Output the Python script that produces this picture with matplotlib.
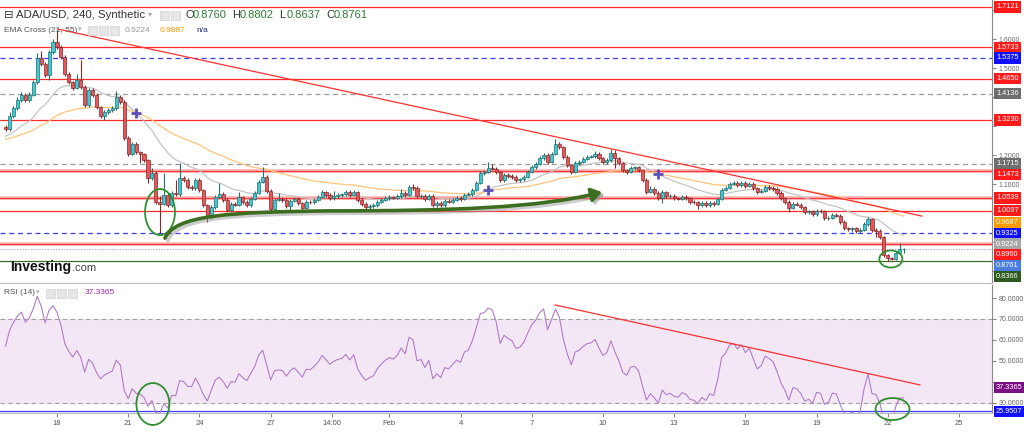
import numpy as np
import pandas as pd
import matplotlib
matplotlib.use('Agg')
import matplotlib.pyplot as plt
import matplotlib.dates as mdates
from matplotlib.patches import Ellipse, FancyArrowPatch, Rectangle
from matplotlib.path import Path

plt.rcParams['font.family'] = ['Liberation Sans', 'DejaVu Sans']

# ---- 4h candles, ADA/USD ----
first_open = 1.298
closes = [1.291, 1.336, 1.364, 1.391, 1.409, 1.391, 1.409, 1.453, 1.536, 1.516,
          1.478, 1.557, 1.591, 1.574, 1.540, 1.481, 1.453, 1.433, 1.460, 1.436,
          1.374, 1.426, 1.409, 1.367, 1.336, 1.350, 1.357, 1.364, 1.402, 1.384,
          1.260, 1.205, 1.240, 1.212, 1.205, 1.184, 1.122, 1.140, 1.040, 1.033,
          1.064, 1.029, 1.071, 1.068, 1.122, 1.116, 1.091, 1.088, 1.116, 1.081,
          1.029, 0.988, 1.022, 1.057, 1.067, 1.047, 1.012, 1.033, 1.031, 1.057,
          1.040, 1.029, 1.050, 1.071, 1.109, 1.126, 1.078, 1.016, 1.047, 1.050,
          1.047, 1.026, 1.043, 1.050, 1.036, 1.019, 1.040, 1.038, 1.047, 1.057,
          1.074, 1.064, 1.053, 1.060, 1.064, 1.066, 1.074, 1.064, 1.074, 1.047,
          1.033, 1.022, 1.026, 1.029, 1.040, 1.047, 1.053, 1.057, 1.055, 1.060,
          1.071, 1.064, 1.091, 1.088, 1.060, 1.062, 1.050, 1.060, 1.029, 1.036,
          1.029, 1.043, 1.041, 1.047, 1.053, 1.050, 1.064, 1.067, 1.081, 1.105,
          1.140, 1.143, 1.157, 1.155, 1.143, 1.116, 1.133, 1.129, 1.126, 1.116,
          1.118, 1.126, 1.143, 1.160, 1.171, 1.191, 1.202, 1.178, 1.205, 1.240,
          1.229, 1.195, 1.167, 1.143, 1.174, 1.178, 1.188, 1.195, 1.197, 1.205,
          1.191, 1.178, 1.184, 1.209, 1.191, 1.174, 1.150, 1.143, 1.157, 1.159,
          1.150, 1.116, 1.074, 1.084, 1.071, 1.053, 1.074, 1.060, 1.062, 1.053,
          1.051, 1.057, 1.053, 1.040, 1.038, 1.029, 1.036, 1.029, 1.036, 1.033,
          1.050, 1.081, 1.088, 1.102, 1.105, 1.098, 1.105, 1.095, 1.102, 1.088,
          1.074, 1.078, 1.091, 1.088, 1.084, 1.071, 1.053, 1.040, 1.019, 1.033,
          1.031, 1.022, 1.005, 1.007, 0.998, 1.009, 1.007, 0.984, 0.986, 0.995,
          0.993, 0.971, 0.950, 0.947, 0.949, 0.940, 0.943, 0.964, 0.981, 0.943,
          0.941, 0.919, 0.857, 0.845, 0.842, 0.864, 0.876, 0.8761]
highs = [1.305, 1.349, 1.370, 1.402, 1.420, 1.415, 1.418, 1.460, 1.553, 1.560,
         1.522, 1.563, 1.600, 1.633, 1.580, 1.546, 1.488, 1.458, 1.480, 1.529,
         1.442, 1.432, 1.432, 1.414, 1.372, 1.356, 1.364, 1.372, 1.422, 1.408,
         1.390, 1.266, 1.246, 1.246, 1.216, 1.210, 1.188, 1.158, 1.146, 1.062,
         1.140, 1.070, 1.078, 1.116, 1.174, 1.128, 1.122, 1.098, 1.122, 1.122,
         1.086, 1.034, 1.028, 1.063, 1.105, 1.073, 1.052, 1.039, 1.040, 1.074,
         1.062, 1.045, 1.056, 1.077, 1.115, 1.160, 1.132, 1.083, 1.053, 1.070,
         1.056, 1.052, 1.049, 1.056, 1.056, 1.041, 1.046, 1.046, 1.053, 1.063,
         1.080, 1.079, 1.069, 1.076, 1.070, 1.072, 1.080, 1.080, 1.080, 1.079,
         1.052, 1.038, 1.032, 1.035, 1.046, 1.053, 1.059, 1.063, 1.062, 1.066,
         1.085, 1.077, 1.097, 1.100, 1.094, 1.068, 1.068, 1.066, 1.066, 1.042,
         1.042, 1.049, 1.049, 1.053, 1.059, 1.059, 1.070, 1.073, 1.087, 1.111,
         1.146, 1.150, 1.178, 1.170, 1.161, 1.148, 1.139, 1.139, 1.135, 1.132,
         1.124, 1.132, 1.149, 1.166, 1.177, 1.197, 1.208, 1.208, 1.211, 1.257,
         1.246, 1.234, 1.200, 1.172, 1.180, 1.184, 1.194, 1.201, 1.203, 1.215,
         1.211, 1.196, 1.190, 1.222, 1.219, 1.196, 1.179, 1.155, 1.163, 1.165,
         1.165, 1.155, 1.121, 1.095, 1.090, 1.076, 1.080, 1.079, 1.068, 1.068,
         1.058, 1.063, 1.063, 1.058, 1.046, 1.044, 1.042, 1.042, 1.042, 1.042,
         1.056, 1.087, 1.094, 1.108, 1.111, 1.111, 1.112, 1.111, 1.108, 1.108,
         1.093, 1.084, 1.097, 1.097, 1.094, 1.090, 1.076, 1.058, 1.045, 1.039,
         1.039, 1.037, 1.027, 1.013, 1.013, 1.015, 1.015, 1.012, 0.992, 1.001,
         1.001, 0.998, 0.976, 0.955, 0.955, 0.955, 0.949, 0.970, 0.988, 0.986,
         0.949, 0.946, 0.924, 0.862, 0.850, 0.870, 0.898, 0.8802]
lows = [1.285, 1.286, 1.330, 1.358, 1.386, 1.385, 1.386, 1.404, 1.448, 1.508,
        1.470, 1.460, 1.550, 1.566, 1.533, 1.474, 1.446, 1.425, 1.428, 1.430,
        1.366, 1.368, 1.402, 1.360, 1.330, 1.322, 1.344, 1.350, 1.358, 1.378,
        1.254, 1.198, 1.200, 1.206, 1.174, 1.178, 1.105, 1.116, 1.034, 0.933,
        1.028, 1.022, 1.024, 1.062, 1.062, 1.110, 1.085, 1.080, 1.082, 1.075,
        1.022, 0.971, 0.982, 1.017, 1.052, 1.041, 1.006, 1.006, 1.025, 1.026,
        1.034, 1.023, 1.024, 1.045, 1.066, 1.104, 1.072, 1.010, 1.010, 1.042,
        1.041, 1.020, 1.004, 1.038, 1.030, 1.013, 1.014, 1.032, 1.032, 1.042,
        1.052, 1.058, 1.047, 1.048, 1.055, 1.058, 1.061, 1.058, 1.059, 1.041,
        1.027, 1.015, 1.016, 1.020, 1.024, 1.035, 1.042, 1.048, 1.050, 1.050,
        1.055, 1.058, 1.059, 1.082, 1.054, 1.054, 1.044, 1.045, 1.023, 1.022,
        1.023, 1.024, 1.035, 1.036, 1.042, 1.044, 1.045, 1.059, 1.062, 1.076,
        1.100, 1.134, 1.138, 1.149, 1.137, 1.110, 1.110, 1.123, 1.120, 1.110,
        1.108, 1.112, 1.121, 1.138, 1.155, 1.166, 1.186, 1.172, 1.173, 1.200,
        1.223, 1.189, 1.161, 1.137, 1.138, 1.168, 1.173, 1.183, 1.190, 1.192,
        1.185, 1.172, 1.172, 1.179, 1.157, 1.168, 1.144, 1.137, 1.138, 1.151,
        1.144, 1.110, 1.068, 1.069, 1.065, 1.047, 1.036, 1.054, 1.054, 1.047,
        1.045, 1.046, 1.047, 1.034, 1.032, 1.017, 1.023, 1.023, 1.023, 1.027,
        1.028, 1.045, 1.076, 1.083, 1.097, 1.092, 1.093, 1.089, 1.090, 1.082,
        1.068, 1.069, 1.073, 1.082, 1.078, 1.065, 1.047, 1.034, 1.005, 1.014,
        1.025, 1.016, 0.999, 0.999, 0.992, 0.993, 1.001, 0.978, 0.978, 0.980,
        0.987, 0.965, 0.944, 0.940, 0.936, 0.934, 0.934, 0.938, 0.958, 0.937,
        0.919, 0.913, 0.851, 0.8366, 0.838, 0.838, 0.860, 0.8637]

# indicator seeds (state before the first visible bar)
ema21_seed = 1.264
ema55_seed = 1.255
rsi_gain_seed = 0.010
rsi_loss_seed = 0.007

# horizontal levels drawn on the price panel
level_values = [1.7121, 1.5733, 1.5375, 1.4650, 1.4136, 1.3230, 1.1715,
                1.1473, 1.0539, 1.0097, 0.9325, 0.8960, 0.8366]
level_kinds = ['red', 'red', 'blue', 'red', 'gray', 'red', 'gray',
               'pink', 'pink', 'red', 'blue', 'pink', 'green']
ema21_last = 0.9224
ema55_last = 0.9687
last_price = 0.8761
rsi_last = 37.3365
rsi_support = 25.9507
header_ohlc = [('O', '0.8760'), ('H', '0.8802'), ('L', '0.8637'), ('C', '0.8761')]

tick_dates = ['2018-01-18', '2018-01-21', '2018-01-24', '2018-01-27',
              '2018-01-29 14:00', '2018-02-01', '2018-02-04', '2018-02-07',
              '2018-02-10', '2018-02-13', '2018-02-16', '2018-02-19',
              '2018-02-22', '2018-02-25']
tick_labels = ['18', '21', '24', '27', '14:00', 'Feb', '4', '7', '10', '13',
               '16', '19', '22', '25']


def ema(values, n, seed):
    a = 2.0 / (n + 1)
    e = seed
    out = []
    for v in values:
        e = e + a * (v - e)
        out.append(e)
    return np.array(out)


def rsi(values, n, g, l, start):
    prev = start
    out = []
    for v in values:
        d = v - prev
        prev = v
        g = (g * (n - 1) + max(d, 0)) / n
        l = (l * (n - 1) + max(-d, 0)) / n
        out.append(100 - 100 / (1 + g / l))
    return np.array(out)


dates = pd.date_range('2018-01-15 20:00', periods=len(closes), freq='4h')
x = mdates.date2num(dates)
opens = [first_open] + closes[:-1]
base = mdates.date2num(pd.Timestamp('2018-01-18'))

e21 = ema(closes, 21, ema21_seed)
e55 = ema(closes, 55, ema55_seed)
r14 = rsi(closes, 14, rsi_gain_seed, rsi_loss_seed, first_open)

fig = plt.figure(figsize=(10.24, 4.33), dpi=100)
ax = fig.add_axes([0, 1 - 283 / 433, 992 / 1024, 283 / 433])
ax2 = fig.add_axes([0, 1 - 413 / 433, 992 / 1024, 128 / 433], sharex=ax)

ax.set_xlim(base - 2.401, base + 39.39)
ax.set_ylim(0.7603, 1.7362)
ax2.set_ylim(25.2, 86.2)

# horizontal levels
for v, k in zip(level_values, level_kinds):
    if k == 'red':
        ax.axhline(v, color='#ff2a2a', lw=0.9, zorder=1)
    elif k == 'pink':
        ax.axhline(v, color='#ffb3b3', lw=2.6, zorder=1)
        ax.axhline(v, color='#ff3a3a', lw=0.9, zorder=1)
    elif k == 'blue':
        ax.axhline(v, color='#3b3bff', lw=0.9, ls=(0, (4, 3)), zorder=1)
    elif k == 'gray':
        ax.axhline(v, color='#999999', lw=0.9, ls=(0, (4, 3)), zorder=1)
    elif k == 'green':
        ax.axhline(v, color='#3a6b2a', lw=0.9, zorder=1)
ax.axhline(last_price, color='#8fa8e8', lw=0.8, ls=(0, (1, 1.5)), zorder=1)

# EMA lines
ax.plot(x, e21, color='#c4c4c4', lw=0.9, zorder=2)
ax.plot(x, e55, color='#ffc47a', lw=0.9, zorder=2)
sgn = np.sign(e21 - e55)
for i in range(1, len(sgn)):
    if sgn[i] != sgn[i - 1]:
        ax.plot(x[i], (e21[i] + e55[i]) / 2, marker='+', ms=7, mew=2,
                color='#5a4fb8', zorder=6)

# candles
w = 0.13
for xi, o, c, h, l in zip(x, opens, closes, highs, lows):
    up = c >= o
    edge = '#1f6f6a' if up else '#8a2626'
    face = '#3fc8d6' if up else '#e4585c'
    ax.vlines(xi, min(l, o, c), max(h, o, c), color=edge, lw=0.8, zorder=3)
    ax.add_patch(Rectangle((xi - w / 2, min(o, c)), w, max(abs(c - o), 0.0015),
                           fc=face, ec=edge, lw=0.5, zorder=4))

# descending trend line
ax.plot([base + 0.04, base + 36.44], [1.636, 0.991], color='#ff3030', lw=0.9, zorder=5)

# green ellipses
ax.add_patch(Ellipse((base + 4.34, 1.005), 1.26, 0.159, fill=False,
                     ec='#2f8f2f', lw=1.3, zorder=7))
ax.add_patch(Ellipse((base + 35.13, 0.843), 0.97, 0.059, fill=False,
                     ec='#2f8f2f', lw=1.3, zorder=7))

# curved arrow
pts = [(4.55, 0.915), (4.97, 0.995), (7.29, 1.005), (11.50, 1.009),
       (16.55, 1.009), (20.35, 1.019), (22.96, 1.074)]
verts = [(base + d, p) for d, p in pts]
codes = [Path.MOVETO] + [Path.CURVE4] * 6
shadow = FancyArrowPatch(path=Path([(vx + 0.12, vy - 0.008) for vx, vy in verts], codes),
                         arrowstyle='-|>,head_length=6,head_width=4', color='#9a9a9a',
                         lw=2.8, alpha=0.5, zorder=7)
ax.add_patch(shadow)
arrow = FancyArrowPatch(path=Path(verts, codes), arrowstyle='-|>,head_length=6,head_width=4',
                        color='#3d6e1f', lw=2.6, zorder=8)
ax.add_patch(arrow)

# RSI panel
ax2.axhspan(30, 70, color='#f3e7f5', zorder=0)
ax2.axhline(70, color='#a0a0a0', lw=0.8, ls=(0, (4, 3)))
ax2.axhline(30, color='#a0a0a0', lw=0.8, ls=(0, (4, 3)))
ax2.axhline(rsi_support, color='#3b3bff', lw=0.9)
ax2.plot(x, r14, color='#b07cc8', lw=0.8, zorder=3)
ax2.plot([base + 20.98, base + 36.35], [76.7, 38.6], color='#ff3030', lw=0.9, zorder=4)
ax2.add_patch(Ellipse((base + 4.04, 29.5), 1.39, 20, fill=False, ec='#2f8f2f',
                      lw=1.3, zorder=5, clip_on=False))
ax2.add_patch(Ellipse((base + 35.2, 27.1), 1.43, 10.5, fill=False, ec='#2f8f2f',
                      lw=1.3, zorder=5, clip_on=False))


def tag(a, y, text, color):
    a.text(1.004, y, text, transform=a.get_yaxis_transform(), fontsize=5.3,
           color='white', va='center', ha='left', zorder=10, clip_on=False,
           bbox=dict(boxstyle='square,pad=0.3', fc=color, ec='none'))


# price tags on the right scale, pushed apart where they crowd
label_colors = {'red': '#ff1a1a', 'pink': '#ff1a1a', 'blue': '#1010ff',
                'gray': '#6e6e6e', 'green': '#2d5a1e'}
tags = [(v, label_colors[k]) for v, k in zip(level_values, level_kinds)]
tags += [(ema55_last, '#ff9a00'), (ema21_last, '#a8a8a8'), (last_price, '#4a7de0')]
tags.sort(key=lambda t: -t[0])
tag_pos = []
prev = None
for v, col in tags:
    pos = v if prev is None else min(v, prev - 0.037)
    tag(ax, pos, '%.4f' % v, col)
    tag_pos.append(pos)
    prev = pos
tag(ax2, rsi_last, '%.4f' % rsi_last, '#7d0f86')
tag(ax2, rsi_support, '%.4f' % rsi_support, '#1010ff')


def price_fmt(v, _):
    # ticks sitting under a tag are covered in the original
    if any(abs(v - p) < 0.025 for p in tag_pos):
        return ''
    return '%.4f' % v


def rsi_fmt(v, _):
    if abs(v - rsi_last) < 4:
        return ''
    return '%.4f' % v


# axes styling
for a in (ax, ax2):
    for s in ('left', 'top'):
        a.spines[s].set_visible(False)
    a.spines['right'].set_color('#8a8a8a')
    a.spines['bottom'].set_color('#bbbbbb')
    a.yaxis.tick_right()
    a.tick_params(axis='y', labelsize=5.0, labelcolor='#666666', length=3,
                  color='#888888', pad=2)
ax.set_yticks(np.arange(0.8, 1.75, 0.1))
ax.yaxis.set_major_formatter(plt.FuncFormatter(price_fmt))
ax2.set_yticks([30, 40, 50, 60, 70, 80])
ax2.yaxis.set_major_formatter(plt.FuncFormatter(rsi_fmt))
ax.tick_params(axis='x', bottom=False, labelbottom=False)
ax2.set_xticks([mdates.date2num(pd.Timestamp(t)) for t in tick_dates])
ax2.set_xticklabels(tick_labels)
ax2.tick_params(axis='x', labelsize=5.5, labelcolor='#555555', length=3,
                color='#888888', pad=2)


# header texts
def ftxt(px, py, s, **kw):
    fig.text(px / 1024, 1 - py / 433, s, va='center', ha='left', **kw)


def icons(px, py, n):
    for k in range(n):
        fig.patches.append(Rectangle(((px + 11 * k) / 1024, 1 - (py + 5) / 433),
                                     9 / 1024, 9 / 433, transform=fig.transFigure,
                                     fc='#e6e6e6', ec='#d0d0d0', lw=0.5))


ftxt(4, 15, '⊟ ADA/USD, 240, Synthetic', fontsize=8.2, color='#333333')
ftxt(148, 15, '▾', fontsize=6, color='#aaaaaa')
icons(160, 15, 2)
hx = 185
for letter, val in header_ohlc:
    ftxt(hx, 15, letter, fontsize=8, color='#333333')
    ftxt(hx + 8, 15, val, fontsize=8, color='#2e7d32')
    hx += 47
ftxt(4, 30, 'EMA Cross (21, 55)', fontsize=6, color='#555555')
ftxt(78, 30, '▾', fontsize=5, color='#aaaaaa')
icons(88, 30, 3)
ftxt(125, 30, '%.4f' % ema21_last, fontsize=6, color='#999999')
ftxt(160, 30, '0.9887', fontsize=6, color='#ff9800')
ftxt(196, 30, 'n/a', fontsize=6, color='#1a237e')
ftxt(10, 267, 'Investing', fontsize=10, color='#111111', fontweight='bold')
ftxt(72, 268, '.com', fontsize=8, color='#444444')
ftxt(4, 293, 'RSI (14)', fontsize=6, color='#555555')
ftxt(36, 293, '▾', fontsize=5, color='#aaaaaa')
icons(46, 293, 3)
ftxt(85, 293, '%.4f' % rsi_last, fontsize=6, color='#9c27b0')

fig.savefig('out.png', dpi=100, facecolor='white')
